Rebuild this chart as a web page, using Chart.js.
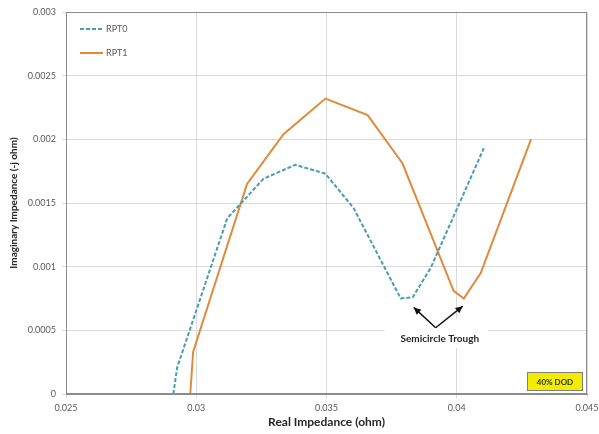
<!DOCTYPE html>
<html>
<head>
<meta charset="utf-8">
<script src="https://cdn.jsdelivr.net/npm/chart.js@4"></script>
<style>
  body { margin: 0; background: #fff; }
  canvas { display: block; }
</style>
</head>
<body>
<canvas id="myChart" width="599" height="434"></canvas>
<script>
// Nyquist data
let rpt0_x = [0.02912, 0.02927, 0.03119, 0.03258, 0.0338, 0.03496, 0.03604, 0.03785, 0.03831, 0.039, 0.04104];
let rpt0_y = [0, 0.00021, 0.00138, 0.00169, 0.0018, 0.00173, 0.00146, 0.00075, 0.00076, 0.00099, 0.00193];
let rpt1_x = [0.02977, 0.02988, 0.03195, 0.03335, 0.03496, 0.03658, 0.03792, 0.03988, 0.04027, 0.04092, 0.04285];
let rpt1_y = [0, 0.00033, 0.00165, 0.00204, 0.00232, 0.00219, 0.00181, 0.00081, 0.00075, 0.00095, 0.002];

let x_ticks = [0.025, 0.03, 0.035, 0.04, 0.045];
let x_labels = ['0.025', '0.03', '0.035', '0.04', '0.045'];
let y_ticks = [0, 0.0005, 0.001, 0.0015, 0.002, 0.0025, 0.003];
let y_labels = ['0', '0.0005', '0.001', '0.0015', '0.002', '0.0025', '0.003'];

let series_names = ['RPT0', 'RPT1'];
let trough_text = 'Semicircle Trough';
let trough_base = [0.03919, 0.00052];
let trough_tips = [[0.03835, 0.00068], [0.04023, 0.00069]];
let trough_label = [0.03935, 0.00043];
let trough_box = [0.03723, 0.00059, 0.04119, 0.00036];
let dod_text = '40% DOD';

const col0 = '#4a9bb3';
const col1 = '#e08a3c';
const font = 'Lato, "Open Sans", sans-serif';

function toPoints(xs, ys) {
    return xs.map((v, i) => ({ x: v, y: ys[i] }));
}

function arrow(ctx, x0, y0, x1, y1) {
    ctx.beginPath();
    ctx.moveTo(x0, y0);
    ctx.lineTo(x1, y1);
    ctx.stroke();
    const a = Math.atan2(y1 - y0, x1 - x0);
    ctx.beginPath();
    ctx.moveTo(x1, y1);
    ctx.lineTo(x1 - 8 * Math.cos(a - 0.45), y1 - 8 * Math.sin(a - 0.45));
    ctx.lineTo(x1 - 8 * Math.cos(a + 0.45), y1 - 8 * Math.sin(a + 0.45));
    ctx.closePath();
    ctx.fill();
}

const extras = {
    id: 'extras',
    beforeDatasetsDraw(chart) {
        const { ctx, scales: { x, y } } = chart;
        ctx.save();
        ctx.fillStyle = '#fff';
        const l = x.getPixelForValue(trough_box[0]), t = y.getPixelForValue(trough_box[1]);
        const r = x.getPixelForValue(trough_box[2]), b = y.getPixelForValue(trough_box[3]);
        ctx.fillRect(l, t, r - l, b - t);
        ctx.restore();
    },
    afterDraw(chart) {
        const { ctx, chartArea: a, scales: { x, y } } = chart;
        ctx.save();
        // plot border
        ctx.strokeStyle = '#8c8c8c';
        ctx.lineWidth = 1;
        ctx.strokeRect(Math.round(a.left) + 0.5, Math.round(a.top) + 0.5, Math.round(a.width) - 1, Math.round(a.height) - 1);

        // legend inside plot
        const cols = [col0, col1];
        ctx.font = '9px ' + font;
        ctx.textBaseline = 'middle';
        series_names.forEach((n, i) => {
            const ly = a.top + 17 + i * 24;
            ctx.strokeStyle = cols[i];
            ctx.lineWidth = 2;
            ctx.setLineDash(i === 0 ? [4, 2] : []);
            ctx.beginPath();
            ctx.moveTo(a.left + 14, ly);
            ctx.lineTo(a.left + 37, ly);
            ctx.stroke();
            ctx.setLineDash([]);
            ctx.fillStyle = '#595959';
            ctx.fillText(n, a.left + 40, ly);
        });

        // trough annotation
        ctx.strokeStyle = '#111';
        ctx.fillStyle = '#111';
        ctx.lineWidth = 1.5;
        const bx = x.getPixelForValue(trough_base[0]), by = y.getPixelForValue(trough_base[1]);
        trough_tips.forEach(p => {
            arrow(ctx, bx, by, x.getPixelForValue(p[0]), y.getPixelForValue(p[1]));
        });
        ctx.font = 'bold 10px ' + font;
        ctx.fillStyle = '#262626';
        ctx.textAlign = 'center';
        ctx.fillText(trough_text, x.getPixelForValue(trough_label[0]), y.getPixelForValue(trough_label[1]));

        // DOD tag
        const w = 56, h = 19;
        const dx = a.right - 4 - w, dy = a.bottom - 3 - h;
        ctx.fillStyle = '#f2ec00';
        ctx.fillRect(dx, dy, w, h);
        ctx.strokeStyle = '#7f7f7f';
        ctx.lineWidth = 1;
        ctx.strokeRect(dx + 0.5, dy + 0.5, w - 1, h - 1);
        ctx.fillStyle = '#333';
        ctx.font = 'bold 8px ' + font;
        ctx.fillText(dod_text, dx + w / 2, dy + h / 2 + 1);
        ctx.restore();
    }
};

new Chart(document.getElementById('myChart'), {
    type: 'scatter',
    data: {
        datasets: [{
            label: series_names[0],
            data: toPoints(rpt0_x, rpt0_y),
            showLine: true,
            borderColor: col0,
            borderWidth: 2,
            borderDash: [4, 2],
            pointRadius: 0,
            tension: 0
        }, {
            label: series_names[1],
            data: toPoints(rpt1_x, rpt1_y),
            showLine: true,
            borderColor: col1,
            borderWidth: 2,
            pointRadius: 0,
            tension: 0
        }]
    },
    options: {
        responsive: false,
        animation: false,
        devicePixelRatio: 1,
        layout: { padding: { left: 0, right: 12, top: 12, bottom: 0 } },
        plugins: {
            legend: { display: false },
            tooltip: { enabled: false }
        },
        scales: {
            x: {
                type: 'linear',
                min: 0.025,
                max: 0.045,
                afterFit: s => { s.height = 40; s.paddingLeft = 0; s.paddingRight = 0; },
                afterBuildTicks: s => { s.ticks = x_ticks.map(v => ({ value: v })); },
                ticks: {
                    callback: (v, i) => x_labels[i],
                    color: '#595959',
                    font: { family: font, size: 9 },
                    padding: 5,
                    maxRotation: 0
                },
                grid: { color: '#d9d9d9', tickLength: 4 },
                border: { color: '#8c8c8c' },
                title: {
                    display: true,
                    text: 'Real Impedance (ohm)',
                    color: '#262626',
                    font: { family: font, size: 12, weight: 'bold' },
                    padding: { top: 0, bottom: 5 }
                }
            },
            y: {
                type: 'linear',
                min: 0,
                max: 0.003,
                afterFit: s => { s.width = 66; },
                afterBuildTicks: s => { s.ticks = y_ticks.map(v => ({ value: v })); },
                ticks: {
                    callback: (v, i) => y_labels[i],
                    color: '#595959',
                    font: { family: font, size: 9 },
                    padding: 6
                },
                grid: { color: '#d9d9d9', tickLength: 4 },
                border: { color: '#8c8c8c' },
                title: {
                    display: true,
                    text: 'Imaginary Impedance (-j ohm)',
                    color: '#262626',
                    font: { family: font, size: 10, weight: 'bold' },
                    padding: { top: 8, bottom: 0 }
                }
            }
        }
    },
    plugins: [extras]
});
</script>
</body>
</html>
